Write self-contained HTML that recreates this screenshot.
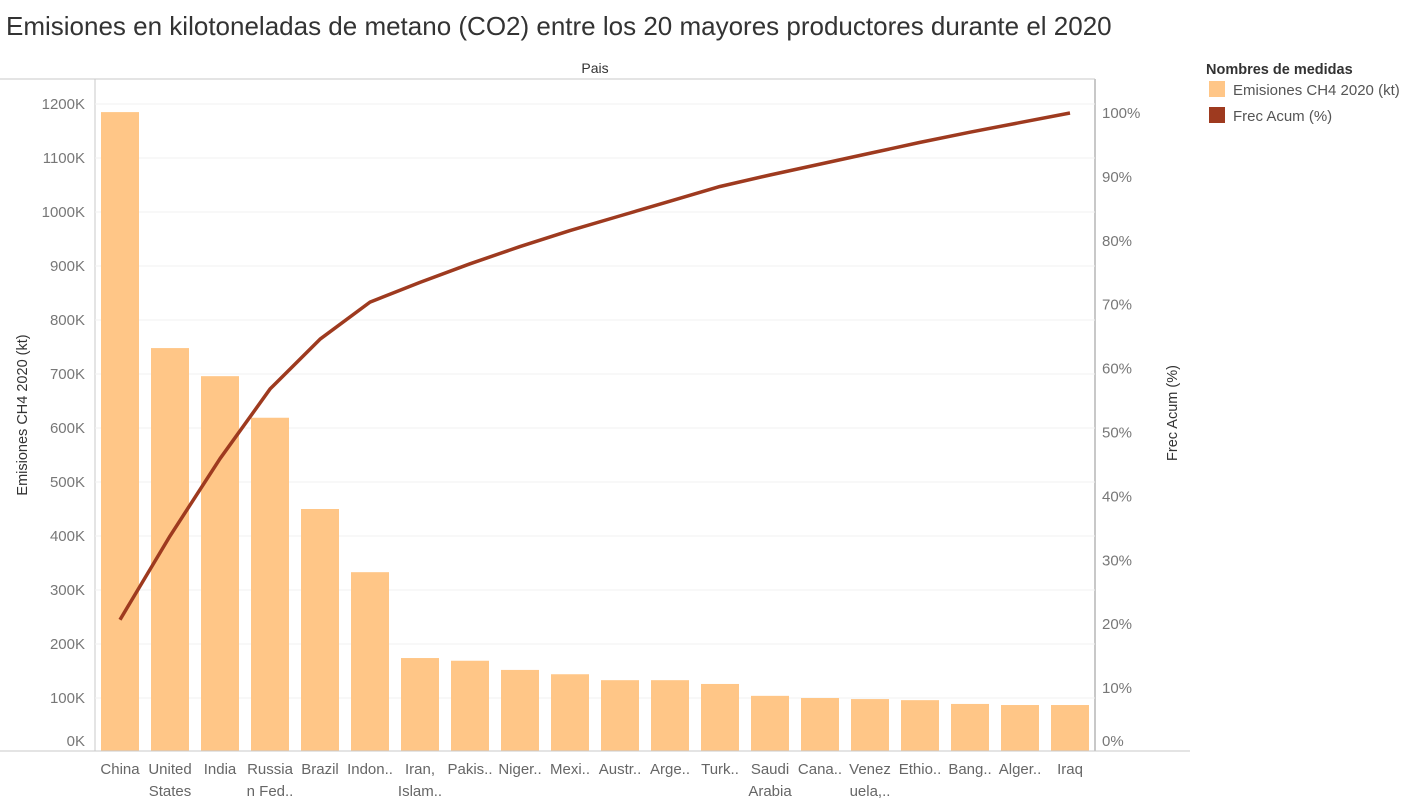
<!DOCTYPE html>
<html><head><meta charset="utf-8"><style>
body{margin:0;background:#fff;font-family:"Liberation Sans",sans-serif;}
svg text{font-family:"Liberation Sans",sans-serif;}
</style></head><body>
<svg id="chart" width="1410" height="803" xmlns="http://www.w3.org/2000/svg">
<text x="6" y="35" font-size="26" fill="#333">Emisiones en kilotoneladas de metano (CO2) entre los 20 mayores productores durante el 2020</text>
<text x="595" y="73" font-size="14" fill="#333" text-anchor="middle">Pais</text>
<line x1="0" y1="79" x2="1095" y2="79" stroke="#c8c8c8"/>
<line x1="95" y1="79" x2="95" y2="751" stroke="#c8c8c8"/>
<line x1="1095" y1="79" x2="1095" y2="751" stroke="#c8c8c8" stroke-width="2"/>
<g id="grid"></g><g id="bars"></g><g id="line"></g><g id="axes"></g>
<line x1="0" y1="751" x2="1190" y2="751" stroke="#c8c8c8"/>
<text transform="translate(27,415) rotate(-90)" font-size="14.5" fill="#333" text-anchor="middle">Emisiones CH4 2020 (kt)</text>
<text transform="translate(1177,413) rotate(-90)" font-size="14.5" fill="#333" text-anchor="middle">Frec Acum (%)</text>
<g>
<text x="1206" y="74" font-size="14.5" fill="#333" font-weight="bold">Nombres de medidas</text>
<rect x="1209" y="81" width="16" height="16" fill="#ffc687"/>
<text x="1233" y="95" font-size="15" fill="#555">Emisiones CH4 2020 (kt)</text>
<rect x="1209" y="107" width="16" height="16" fill="#9e3a1f"/>
<text x="1233" y="121" font-size="15" fill="#555">Frec Acum (%)</text>
</g>
</svg>
<script>
const categories=["China","United States","India","Russian Fed..","Brazil","Indon..","Iran, Islam..","Pakis..","Niger..","Mexi..","Austr..","Arge..","Turk..","Saudi Arabia","Cana..","Venezuela,..","Ethio..","Bang..","Alger..","Iraq"];
const labelLines=[["China"],["United","States"],["India"],["Russia","n Fed.."],["Brazil"],["Indon.."],["Iran,","Islam.."],["Pakis.."],["Niger.."],["Mexi.."],["Austr.."],["Arge.."],["Turk.."],["Saudi","Arabia"],["Cana.."],["Venez","uela,.."],["Ethio.."],["Bang.."],["Alger.."],["Iraq"]];
const emissions=[1185,748,696,619,450,333,174,169,152,144,133,133,126,104,100,98,96,89,87,87];
const cumPct=[20.7,33.8,45.9,56.8,64.6,70.4,73.5,76.4,79.1,81.6,83.9,86.2,88.5,90.3,92.0,93.7,95.4,97.0,98.5,100];
const leftTicks=[0,100,200,300,400,500,600,700,800,900,1000,1100,1200];
const rightTicks=[0,10,20,30,40,50,60,70,80,90,100];
const NS="http://www.w3.org/2000/svg";
const y0=752;
function yL(v){return y0-v*0.54;}
function yR(p){return y0-p*6.39;}
function xC(i){return 120+i*50;}
function mk(tag,attrs,parent,txt){const e=document.createElementNS(NS,tag);for(const k in attrs)e.setAttribute(k,attrs[k]);if(txt!==undefined)e.textContent=txt;parent.appendChild(e);return e;}
const grid=document.getElementById('grid'),bars=document.getElementById('bars'),line=document.getElementById('line'),axes=document.getElementById('axes');
leftTicks.forEach(t=>{
 const y=yL(t);
 if(t>0){const g=mk('line',{x1:95,x2:1095,y1:y,y2:y,stroke:'#f2f2f2'},grid);
 
 }
 const lb=mk('text',{x:85,y:(t===0?y-6:y+5),'font-size':15,fill:'#777','text-anchor':'end'},axes,t+'K');
 
 
});
rightTicks.forEach(t=>{
 const y=yR(t);
 const lb=mk('text',{x:1102,y:(t===0?y-6:y+5),'font-size':15,fill:'#777'},axes,t+'%');
 
 
});
emissions.forEach((v,i)=>{
 const r=mk('rect',{x:xC(i)-19,y:yL(v),width:38,height:y0-1-yL(v),fill:'#ffc687'},bars);
 
 
 const t=mk('text',{x:xC(i),'font-size':15,fill:'#666','text-anchor':'middle'},axes);
 
 
 labelLines[i].forEach((s,j)=>mk('tspan',{x:xC(i),y:774+j*22},t,s));
});
const pts=cumPct.map((p,i)=>xC(i)+','+yR(p)).join(' ');
const pl=mk('polyline',{points:pts,fill:'none',stroke:'#9e3a1f','stroke-width':3.5,'stroke-linejoin':'round'},line);


</script>
</body></html>
